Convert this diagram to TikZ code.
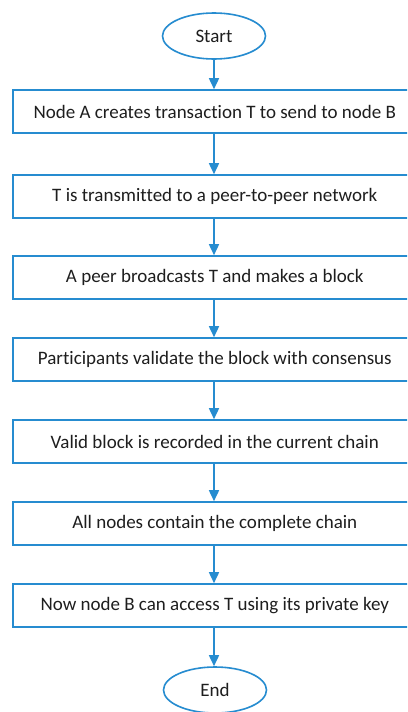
\documentclass[tikz,border=0pt]{standalone}
\usepackage{fontspec}
\setmainfont{Carlito}[Ligatures=NoCommon]
\usetikzlibrary{shapes.geometric,arrows.meta}
\definecolor{flowblue}{RGB}{38,140,208}
\definecolor{txt}{RGB}{30,30,30}
\newcommand{\boxtext}[1]{\hspace*{-16pt}#1}
\tikzset{
  stepbox/.style={draw=flowblue,line width=1.6pt,rectangle,minimum width=420pt,minimum height=43pt,inner sep=0pt,anchor=west,text=txt,font=\fontsize{19}{21}\selectfont},
  term/.style={draw=flowblue,line width=1.6pt,ellipse,minimum width=103pt,minimum height=46pt,inner sep=0pt,text=txt,font=\fontsize{19}{21}\selectfont},
  flow/.style={draw=flowblue,line width=1.6pt,-{Triangle[length=11pt,width=10pt]}}
}
\begin{document}
\begin{tikzpicture}[x=1pt,y=-1pt]
\useasboundingbox (0,0) rectangle (407,712);
\clip (0,0) rectangle (407,712);
\fill[white] (0,0) rectangle (407,712);
\node[term] (start) at (214,36) {Start};
\node[stepbox] (b1) at (12,111.5) {\boxtext{Node A creates transaction T to send to node B}};
\node[stepbox] (b2) at (12,196.5) {\boxtext{T is transmitted to a peer-to-peer network}};
\node[stepbox] (b3) at (12,277.5) {\boxtext{A peer broadcasts T and makes a block}};
\node[stepbox] (b4) at (12,359.5) {\boxtext{Participants validate the block with consensus}};
\node[stepbox] (b5) at (12,441.5) {\boxtext{Valid block is recorded in the current chain}};
\node[stepbox] (b6) at (12,523.5) {\boxtext{All nodes contain the complete chain}};
\node[stepbox] (b7) at (12,605.5) {\boxtext{Now node B can access T using its private key}};
\node[term] (end) at (215,690) {End};
\draw[flow] (start.south -| 214,0) -- (b1.north -| 214,0);
\draw[flow] (b1.south -| 214,0) -- (b2.north -| 214,0);
\draw[flow] (b2.south -| 214,0) -- (b3.north -| 214,0);
\draw[flow] (b3.south -| 214,0) -- (b4.north -| 214,0);
\draw[flow] (b4.south -| 214,0) -- (b5.north -| 214,0);
\draw[flow] (b5.south -| 214,0) -- (b6.north -| 214,0);
\draw[flow] (b6.south -| 214,0) -- (b7.north -| 214,0);
\draw[flow] (b7.south -| 214,0) -- (end.north -| 214,0);
\end{tikzpicture}
\end{document}
